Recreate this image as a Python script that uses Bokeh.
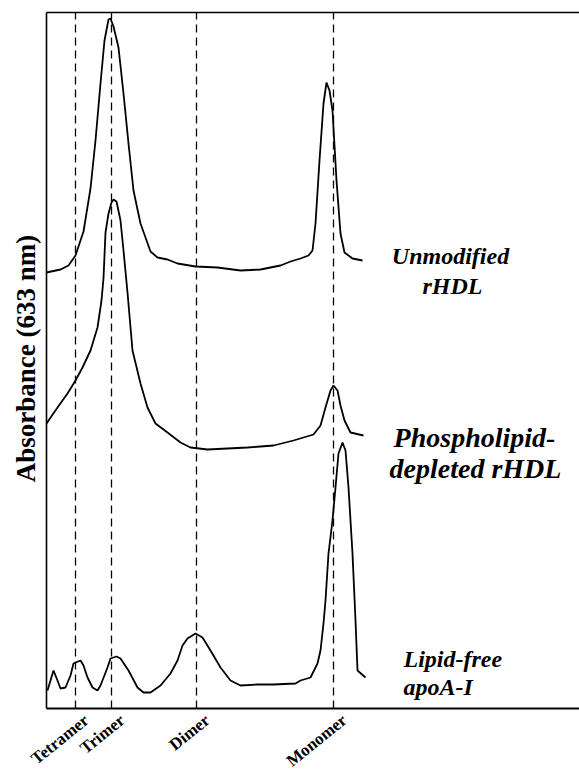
import math
from bokeh.plotting import figure
from bokeh.models import Range1d, Label
from bokeh.embed import file_html
from bokeh.resources import INLINE

# ---- data (migration distance, absorbance in arbitrary units) ----
unmod_x = [0, 14, 22, 29, 37, 44, 49, 54, 58, 62, 64, 67, 72, 77, 82, 87, 94, 104, 111, 121,
           131, 149, 171, 194, 214, 234, 244, 254, 262, 266, 269, 273, 277, 280, 283, 286,
           290, 294, 298, 306, 316]
unmod_y = [436, 439, 443, 453, 477, 520, 568, 625, 668, 689, 690, 682, 661, 615, 565, 518, 485,
           457, 451, 449, 445, 442, 441, 438, 439, 443, 447, 450, 453, 458, 485, 548, 605, 626,
           618, 598, 528, 475, 456, 450, 448]

pl_x = [0, 11, 21, 29, 36, 44, 51, 55, 57, 59, 62, 65, 67, 70, 74, 77, 81, 86, 94, 101, 109,
        121, 134, 144, 161, 181, 201, 227, 247, 267, 274, 279, 284, 287, 291, 294, 298, 304, 317]
pl_y = [285, 301, 315, 328, 341, 358, 381, 408, 430, 476, 495, 506, 509, 507, 488, 458, 416,
        358, 325, 301, 285, 276, 266, 261, 259, 260, 261, 263, 268, 274, 283, 301, 318, 323,
        318, 303, 288, 276, 273]

free_x = [1, 7, 11, 14, 19, 24, 27, 34, 37, 41, 46, 51, 54, 61, 64, 70, 74, 82, 91, 97, 104,
          114, 124, 131, 136, 141, 149, 156, 164, 174, 184, 194, 211, 227, 249, 254, 264, 271,
          274, 277, 279, 282, 286, 289, 292, 296, 299, 302, 306, 309, 311, 319]
free_y = [18, 38, 28, 20, 21, 33, 45, 48, 43, 31, 21, 18, 23, 41, 50, 52, 50, 38, 21, 16, 16,
          23, 35, 48, 63, 70, 75, 71, 58, 41, 28, 23, 24, 24, 25, 28, 31, 45, 58, 85, 108, 155,
          188, 221, 255, 266, 258, 221, 155, 88, 38, 31]

marker_names = ["Tetramer", "Trimer", "Dimer", "Monomer"]
marker_pos = [29, 65, 150, 287]

series_names = ["Unmodified\nrHDL", "Phospholipid-\ndepleted rHDL", "Lipid-free\napoA-I"]
y_title = "Absorbance (633 nm)"

# plot area extents (data units)
X0, X1 = 0, 533
Y0, Y1 = 0, 696

FONT = "Liberation Serif"

p = figure(width=579, height=771, output_backend="svg", toolbar_location=None,
           x_range=Range1d(-46, 533), y_range=Range1d(-63, 708),
           min_border_left=0, min_border_right=0, min_border_top=0, min_border_bottom=0)
p.outline_line_color = None
p.grid.visible = False
p.axis.visible = False
p.background_fill_color = "white"
p.border_fill_color = "white"

# frame lines: left, top, bottom (open on the right)
p.segment(x0=[X0, X0], y0=[Y0, Y1], x1=[X0, X1], y1=[Y1, Y1],
          line_color="black", line_width=1.6)
p.segment(x0=[X0], y0=[Y0], x1=[X1], y1=[Y0], line_color="black", line_width=2)

# marker lines
p.segment(x0=marker_pos, y0=[Y0] * len(marker_pos), x1=marker_pos,
          y1=[Y1] * len(marker_pos), line_color="black", line_width=1.3, line_dash="8 5")

# traces
for xs, ys in [(unmod_x, unmod_y), (pl_x, pl_y), (free_x, free_y)]:
    p.line(xs, ys, line_color="black", line_width=1.8)

# marker names (rotated, below the axis)
for xv, name in zip(marker_pos, marker_names):
    p.add_layout(Label(x=xv + 5, y=-2, text=name, angle=0.68, text_align="right",
                       text_baseline="top", text_font=FONT, text_font_style="bold",
                       text_font_size="17px", text_color="black"))

# y title
p.add_layout(Label(x=-21, y=350, text=y_title, angle=math.pi / 2, text_align="center",
                   text_baseline="middle", text_font=FONT, text_font_style="bold",
                   text_font_size="27px", text_color="black"))

# series labels
def lab(x, y, t, align, size="24px"):
    p.add_layout(Label(x=x, y=y, text=t, text_font=FONT, text_font_style="bold italic",
                       text_font_size=size, text_align=align, text_baseline="middle",
                       text_color="black"))

u1, u2 = series_names[0].split("\n")
p1, p2 = series_names[1].split("\n")
f1, f2 = series_names[2].split("\n")
lab(404, 453, u1, "center")
lab(406, 423, u2, "center")
lab(428, 271, p1, "center", "28px")
lab(429, 240, p2, "center", "28px")
lab(357, 50, f1, "left")
lab(357, 22, f2, "left")

open("out.html", "w").write(file_html(p, INLINE))
